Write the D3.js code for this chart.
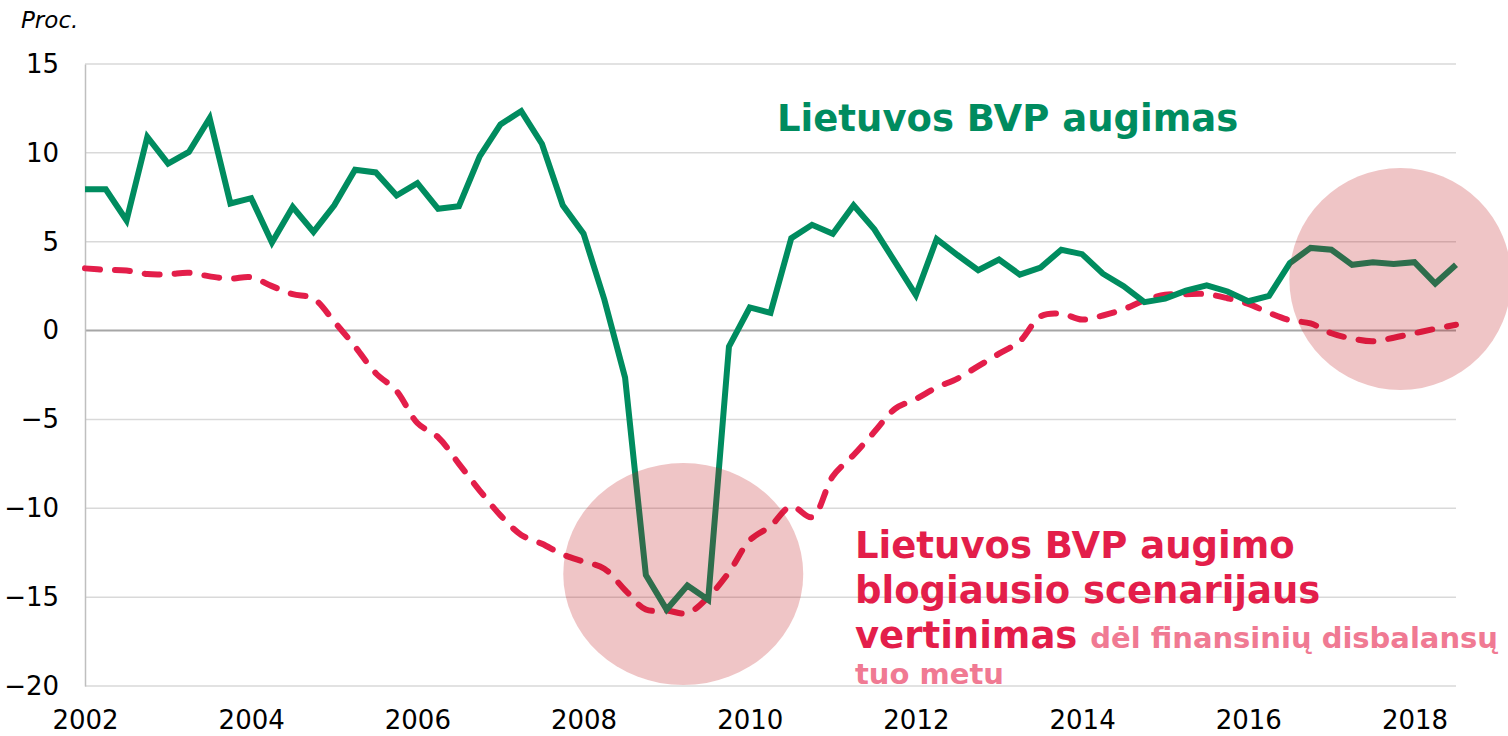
<!DOCTYPE html>
<html>
<head>
<meta charset="utf-8">
<script src="https://cdn.jsdelivr.net/npm/d3@7"></script>
<style>
  body { margin: 0; background: #fff; }
  text { font-family: "DejaVu Sans", Verdana, sans-serif; }
</style>
</head>
<body>
<script>
// quarterly data, 2002 Q1 .. 2018 Q3
var startYear = 2002;
var gdpGrowth = [7.95, 7.95, 6.2, 10.9, 9.4, 10.05, 11.95, 7.15, 7.45, 4.95,
  6.95, 5.55, 7.05, 9.05, 8.9, 7.6, 8.3, 6.85, 7.0, 9.8,
  11.6, 12.35, 10.5, 7.05, 5.45, 1.75, -2.65, -13.75, -15.7, -14.35,
  -15.15, -0.9, 1.3, 1.0, 5.2, 5.95, 5.45, 7.05, 5.7, 3.85,
  2.0, 5.15, 4.25, 3.4, 4.0, 3.15, 3.55, 4.55, 4.3, 3.2,
  2.5, 1.6, 1.8, 2.25, 2.55, 2.2, 1.65, 1.95, 3.8, 4.65,
  4.55, 3.7, 3.85, 3.75, 3.85, 2.65, 3.7];
var worstCase = [3.5, 3.42, 3.38, 3.18, 3.17, 3.25, 3.05, 2.92, 3.0, 2.5,
  2.05, 1.8, 0.5, -0.9, -2.4, -3.4, -5.2, -6.0, -7.5, -9.0,
  -10.4, -11.5, -12.0, -12.6, -13.0, -13.4, -14.6, -15.7, -15.75, -15.9,
  -15.0, -13.6, -11.8, -11.0, -9.9, -10.5, -8.2, -7.0, -5.7, -4.4,
  -3.85, -3.2, -2.7, -2.0, -1.3, -0.6, 0.8, 0.95, 0.62, 0.85,
  1.2, 1.7, 2.02, 2.05, 2.05, 1.82, 1.5, 1.0, 0.58, 0.4,
  -0.15, -0.45, -0.6, -0.4, -0.15, 0.1, 0.33];
var yearTicks = [2002, 2004, 2006, 2008, 2010, 2012, 2014, 2016, 2018];
var valueTicks = [15, 10, 5, 0, -5, -10, -15, -20];
// highlighted periods: [year, value]
var highlights = [[2009.2, -13.7], [2017.83, 2.9]];

var W = 1508, H = 736;
var m = {left: 85, right: 1456, top: 64, bottom: 686};

var svg = d3.select("body").append("svg")
  .attr("width", W).attr("height", H);

var x = d3.scaleLinear().domain([2002, 2018.5]).range([m.left, m.right]);
var y = d3.scaleLinear().domain([-20, 15]).range([m.bottom, m.top]);

var toYear = function(i) { return startYear + i / 4; };

// gridlines
svg.append("g")
  .selectAll("line").data(valueTicks)
  .enter().append("line")
  .attr("x1", m.left).attr("x2", m.right)
  .attr("y1", function(d) { return y(d); })
  .attr("y2", function(d) { return y(d); })
  .attr("stroke", function(d) { return d == 0 ? "#a6a6a6" : "#d9d9d9"; })
  .attr("stroke-width", function(d) { return d == 0 ? 2 : 1.5; });

// left axis
var leftAxis = d3.axisLeft(y).tickValues(valueTicks).tickSize(0).tickPadding(26)
  .tickFormat(function(d) { return String(d).replace("-", "\u2212"); });
var ga = svg.append("g").attr("transform", "translate(" + m.left + ",0)").call(leftAxis);
ga.select(".domain").attr("stroke", "#bfbfbf").attr("stroke-width", 1.5);
ga.selectAll("text").attr("font-size", "26px").attr("fill", "#000")
  .style("font-family", "DejaVu Sans");

// bottom axis
var bottomAxis = d3.axisBottom(x).tickValues(yearTicks).tickSize(0).tickPadding(25)
  .tickFormat(d3.format("d"));
var gb = svg.append("g").attr("transform", "translate(0," + m.bottom + ")").call(bottomAxis);
gb.select(".domain").remove();
gb.selectAll("text").attr("font-size", "26px").attr("fill", "#000")
  .style("font-family", "DejaVu Sans");

// lines
var redLine = d3.line()
  .x(function(d, i) { return x(toYear(i)); })
  .y(function(d) { return y(d); })
  .curve(d3.curveCatmullRom.alpha(0.5));
svg.append("path").datum(worstCase)
  .attr("d", redLine)
  .attr("fill", "none")
  .attr("stroke", "#e31e4a")
  .attr("stroke-width", 6)
  .attr("stroke-linecap", "round")
  .attr("stroke-dasharray", "15 15");

var greenLine = d3.line()
  .x(function(d, i) { return x(toYear(i)); })
  .y(function(d) { return y(d); });
svg.append("path").datum(gdpGrowth)
  .attr("d", greenLine)
  .attr("fill", "none")
  .attr("stroke", "#008c5f")
  .attr("stroke-width", 6)
  .attr("stroke-linejoin", "miter");

// highlight ellipses
svg.selectAll("ellipse.hl").data(highlights)
  .enter().append("ellipse")
  .attr("class", "hl")
  .attr("cx", function(d) { return x(d[0]); })
  .attr("cy", function(d) { return y(d[1]); })
  .attr("rx", function(d, i) { return i == 0 ? 120 : 111; })
  .attr("ry", 111)
  .attr("fill", "#bd1014")
  .attr("fill-opacity", 0.245);

// labels
svg.append("text")
  .attr("x", 21).attr("y", 28)
  .attr("font-size", "23px")
  .attr("font-style", "italic")
  .text("Proc.");

svg.append("text")
  .attr("x", 777).attr("y", 131)
  .attr("font-size", "37px")
  .attr("font-weight", "bold")
  .attr("fill", "#008c5f")
  .text("Lietuvos BVP augimas");

var red = svg.append("g").attr("font-weight", "bold");
red.append("text").attr("x", 855).attr("y", 558)
  .attr("font-size", "37px").attr("fill", "#e31e4a")
  .text("Lietuvos BVP augimo");
red.append("text").attr("x", 855).attr("y", 603)
  .attr("font-size", "37px").attr("fill", "#e31e4a")
  .text("blogiausio scenarijaus");
var l3 = red.append("text").attr("x", 855).attr("y", 648);
l3.append("tspan").attr("font-size", "37px").attr("fill", "#e31e4a").text("vertinimas ");
l3.append("tspan").attr("font-size", "29px").attr("fill", "#f07a93").text("dėl finansinių disbalansų");
red.append("text").attr("x", 855).attr("y", 684)
  .attr("font-size", "29px").attr("fill", "#f07a93")
  .text("tuo metu");
</script>
</body>
</html>
